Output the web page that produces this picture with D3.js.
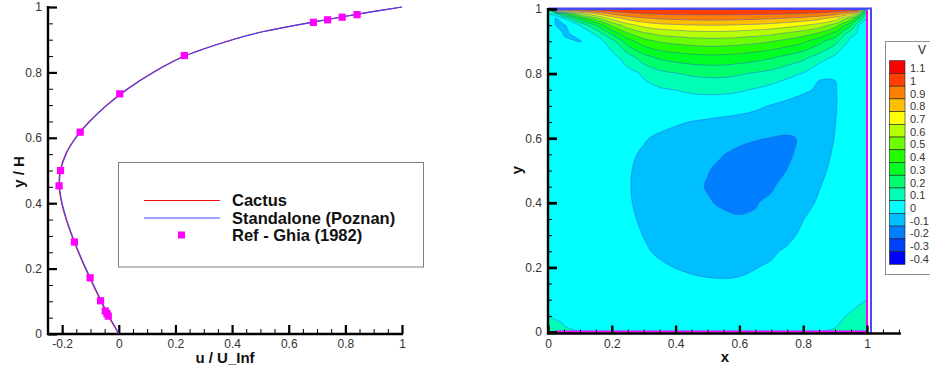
<!DOCTYPE html>
<html><head><meta charset="utf-8">
<script src="https://cdn.jsdelivr.net/npm/d3@7"></script>
<style>
body{margin:0;background:#fff;}
svg{display:block;font-family:"Liberation Sans",Arial,Helvetica,sans-serif;}
</style>
</head><body>
<svg id="chart" width="930" height="369"></svg>
<script>
// ---------- Left panel: centre-line velocity profile ----------
const profileY     = [0, 0.025, 0.05, 0.075, 0.1, 0.15, 0.2, 0.25, 0.3, 0.35, 0.4, 0.45, 0.5, 0.55, 0.6, 0.65, 0.7, 0.75, 0.8, 0.85, 0.9, 0.925, 0.95, 0.97, 0.985, 1];
const cactusU      = [0, -0.017, -0.034, -0.049, -0.063, -0.091, -0.118, -0.143, -0.166, -0.186, -0.202, -0.211, -0.207, -0.188, -0.153, -0.104, -0.043, 0.031, 0.12, 0.232, 0.40, 0.51, 0.66, 0.79, 0.89, 1];
const standaloneU  = [0, -0.015, -0.032, -0.047, -0.061, -0.089, -0.116, -0.141, -0.164, -0.184, -0.200, -0.209, -0.205, -0.186, -0.151, -0.102, -0.041, 0.033, 0.122, 0.234, 0.402, 0.512, 0.662, 0.792, 0.892, 1];
const ghiaY = [0.9766, 0.9688, 0.9609, 0.9531, 0.8516, 0.7344, 0.6172, 0.5, 0.4531, 0.2813, 0.1719, 0.1016, 0.0703, 0.0625, 0.0547];
const ghiaU = [0.84123, 0.78871, 0.73722, 0.68717, 0.23151, 0.00332, -0.13641, -0.20581, -0.2109, -0.15662, -0.1015, -0.06434, -0.04775, -0.04192, -0.03717];
const legendLabels = ["Cactus", "Standalone (Poznan)", "Ref - Ghia (1982)"];
const profileXTicks = [-0.2, 0, 0.2, 0.4, 0.6, 0.8, 1];
const profileYTicks = [0, 0.2, 0.4, 0.6, 0.8, 1];
const profileXLabel = "u / U_Inf";
const profileYLabel = "y / H";

// ---------- Right panel: contour field of V ----------
const gridX = [0, 0.025, 0.05, 0.1, 0.15, 0.2, 0.25, 0.3, 0.35, 0.4, 0.45, 0.5, 0.55, 0.6, 0.65, 0.7, 0.75, 0.8, 0.85, 0.9, 0.95, 0.975, 1];
const gridY = [0, 0.025, 0.05, 0.1, 0.15, 0.2, 0.25, 0.3, 0.35, 0.4, 0.45, 0.5, 0.55, 0.6, 0.65, 0.7, 0.75, 0.8, 0.85, 0.9, 0.925, 0.95, 0.97, 0.985, 1];
const uField = [
 [0.001, 0.001, 0.001, 0, 0, 0, 0, 0, 0, 0, 0, 0, 0, 0, 0, 0, 0, 0, 0, 0.001, 0.002, 0.002, 0.001],
 [0.001, 0.002, -0.0003, -0.003, -0.006, -0.009, -0.011, -0.013, -0.015, -0.016, -0.017, -0.017, -0.017, -0.016, -0.015, -0.013, -0.011, -0.008, -0.004, -0.001, 0.003, 0.004, 0.001],
 [0, -0.002, -0.005, -0.01, -0.016, -0.021, -0.025, -0.028, -0.031, -0.033, -0.034, -0.034, -0.034, -0.033, -0.031, -0.028, -0.024, -0.018, -0.011, -0.004, 0.002, 0.004, 0.001],
 [0, -0.005, -0.01, -0.02, -0.03, -0.04, -0.048, -0.055, -0.06, -0.063, -0.065, -0.066, -0.067, -0.066, -0.063, -0.058, -0.05, -0.04, -0.028, -0.016, -0.006, -0.002, 0],
 [0, -0.006, -0.013, -0.027, -0.04, -0.052, -0.063, -0.072, -0.08, -0.086, -0.089, -0.092, -0.093, -0.091, -0.086, -0.079, -0.068, -0.054, -0.039, -0.024, -0.01, -0.004, 0],
 [0, -0.007, -0.015, -0.031, -0.047, -0.061, -0.074, -0.085, -0.094, -0.101, -0.108, -0.113, -0.115, -0.112, -0.102, -0.092, -0.079, -0.064, -0.048, -0.031, -0.014, -0.006, 0],
 [0, -0.008, -0.017, -0.035, -0.053, -0.069, -0.083, -0.095, -0.106, -0.116, -0.125, -0.134, -0.139, -0.14, -0.132, -0.11, -0.09, -0.072, -0.054, -0.035, -0.016, -0.007, 0],
 [0, -0.009, -0.019, -0.039, -0.058, -0.075, -0.089, -0.101, -0.112, -0.125, -0.138, -0.152, -0.163, -0.17, -0.17, -0.155, -0.118, -0.085, -0.062, -0.04, -0.018, -0.008, 0],
 [0, -0.009, -0.02, -0.041, -0.061, -0.079, -0.093, -0.106, -0.12, -0.135, -0.152, -0.168, -0.182, -0.192, -0.195, -0.185, -0.155, -0.102, -0.07, -0.045, -0.02, -0.009, 0],
 [0, -0.01, -0.021, -0.043, -0.064, -0.082, -0.096, -0.11, -0.126, -0.145, -0.166, -0.192, -0.213, -0.222, -0.203, -0.19, -0.168, -0.13, -0.088, -0.055, -0.025, -0.011, 0],
 [0, -0.01, -0.022, -0.044, -0.065, -0.083, -0.097, -0.112, -0.13, -0.152, -0.178, -0.206, -0.232, -0.245, -0.238, -0.206, -0.18, -0.145, -0.104, -0.065, -0.03, -0.013, 0],
 [0, -0.01, -0.021, -0.043, -0.064, -0.082, -0.096, -0.111, -0.128, -0.148, -0.172, -0.196, -0.222, -0.245, -0.255, -0.24, -0.198, -0.16, -0.118, -0.08, -0.037, -0.016, 0],
 [0, -0.009, -0.02, -0.041, -0.061, -0.078, -0.092, -0.106, -0.121, -0.138, -0.158, -0.178, -0.198, -0.222, -0.24, -0.238, -0.215, -0.175, -0.128, -0.09, -0.043, -0.019, 0],
 [0, -0.008, -0.017, -0.036, -0.054, -0.07, -0.083, -0.096, -0.108, -0.12, -0.134, -0.148, -0.163, -0.178, -0.192, -0.203, -0.212, -0.19, -0.14, -0.097, -0.048, -0.021, 0],
 [0, -0.007, -0.014, -0.029, -0.044, -0.057, -0.068, -0.077, -0.085, -0.093, -0.102, -0.11, -0.118, -0.126, -0.134, -0.142, -0.15, -0.152, -0.14, -0.102, -0.052, -0.023, 0],
 [0, -0.005, -0.01, -0.02, -0.03, -0.038, -0.044, -0.048, -0.051, -0.053, -0.055, -0.057, -0.062, -0.07, -0.085, -0.105, -0.12, -0.128, -0.13, -0.105, -0.058, -0.026, 0],
 [0, -0.003, -0.005, -0.01, -0.015, -0.02, -0.022, -0.02, -0.012, 0.001, 0.017, 0.025, 0.024, 0.012, -0.008, -0.035, -0.065, -0.09, -0.108, -0.104, -0.062, -0.028, 0],
 [0, -0.004, -0.008, -0.015, -0.02, -0.022, -0.03, 0.01, 0.07, 0.095, 0.115, 0.125, 0.124, 0.11, 0.09, 0.068, 0.03, -0.005, -0.094, -0.097, -0.055, -0.025, 0],
 [0, -0.006, -0.012, -0.025, -0.03, -0.035, 0.045, 0.16, 0.217, 0.243, 0.261, 0.27, 0.268, 0.255, 0.236, 0.21, 0.169, 0.122, 0.056, -0.025, -0.05, -0.025, 0],
 [0, -0.02, -0.085, -0.103, -0.06, 0.06, 0.257, 0.358, 0.41, 0.433, 0.45, 0.458, 0.456, 0.445, 0.428, 0.404, 0.367, 0.322, 0.234, 0.133, -0.03, -0.02, 0],
 [0, -0.05, -0.108, -0.085, 0.02, 0.229, 0.394, 0.485, 0.53, 0.55, 0.565, 0.571, 0.57, 0.56, 0.545, 0.526, 0.49, 0.449, 0.389, 0.275, 0.03, -0.015, 0],
 [0, -0.102, -0.112, 0.005, 0.206, 0.42, 0.561, 0.634, 0.671, 0.686, 0.697, 0.702, 0.70, 0.693, 0.683, 0.667, 0.641, 0.609, 0.557, 0.456, 0.218, -0.005, 0],
 [0, -0.115, -0.01, 0.261, 0.45, 0.62, 0.727, 0.78, 0.807, 0.817, 0.825, 0.828, 0.827, 0.822, 0.815, 0.803, 0.785, 0.763, 0.723, 0.651, 0.44, 0.18, 0],
 [0, 0.08, 0.295, 0.565, 0.697, 0.812, 0.872, 0.898, 0.91, 0.915, 0.917, 0.919, 0.919, 0.916, 0.913, 0.909, 0.902, 0.891, 0.872, 0.83, 0.71, 0.505, 0],
 [0, 1, 1, 1, 1, 1, 1, 1, 1, 1, 1, 1, 1, 1, 1, 1, 1, 1, 1, 1, 1, 1, 0]
];
const levelLabels = [1.1, 1, 0.9, 0.8, 0.7, 0.6, 0.5, 0.4, 0.3, 0.2, 0.1, 0, -0.1, -0.2, -0.3, -0.4];
const levelColors = ["#ff0000", "#ff4000", "#ff8000", "#ffbf00", "#ffff00", "#b6ff00", "#6dff00", "#24ff00",
                     "#00ff24", "#00ff6d", "#00ffb6", "#00ffff", "#00bfff", "#0080ff", "#0040ff", "#0000ff"];
const fieldTicks = [0, 0.2, 0.4, 0.6, 0.8, 1];
const fieldXLabel = "x", fieldYLabel = "y", legendTitle = "V";

// ================= drawing =================
const svg = d3.select("#chart");
const fmt = d => String(d);
const tickFont = "12px";
const tickColor = "#333";

function styleAxis(g) {
  g.select(".domain").remove();
  g.selectAll(".tick line").attr("stroke", "#000");
  g.selectAll(".tick text").attr("fill", tickColor).style("font-size", tickFont)
    .style("font-family", '"Liberation Sans",Arial,sans-serif');
}
function minorTicks(lo, hi, step) {
  const out = [];
  for (let k = Math.round(lo / step); k * step <= hi + 1e-9; k++) out.push(+(k * step).toFixed(4));
  return out;
}

// ---- left panel ----
const xL = d3.scaleLinear().domain([-0.25, 1]).range([48, 402]);
const yL = d3.scaleLinear().domain([0, 1]).range([334, 7]);
const L = svg.append("g");

L.append("g").attr("transform", "translate(0,334)")
  .call(d3.axisBottom(xL).tickValues(minorTicks(-0.25, 1, 0.05)).tickSize(-5).tickFormat(""))
  .call(styleAxis).selectAll(".tick line").attr("stroke-width", 1);
L.append("g").attr("transform", "translate(0,334)")
  .call(d3.axisBottom(xL).tickValues(profileXTicks).tickSize(-9).tickPadding(5).tickFormat(fmt))
  .call(styleAxis).selectAll(".tick line").attr("stroke-width", 2.2);
L.append("g").attr("transform", "translate(48,0)")
  .call(d3.axisLeft(yL).tickValues(minorTicks(0, 1, 0.05)).tickSize(-5).tickFormat(""))
  .call(styleAxis).selectAll(".tick line").attr("stroke-width", 1);
L.append("g").attr("transform", "translate(48,0)")
  .call(d3.axisLeft(yL).tickValues(profileYTicks).tickSize(-9).tickPadding(6).tickFormat(fmt))
  .call(styleAxis).selectAll(".tick line").attr("stroke-width", 2.2);
L.append("line").attr("x1", 48).attr("x2", 48).attr("y1", yL(1) - 1).attr("y2", 335).attr("stroke", "#000").attr("stroke-width", 2.4);
L.append("line").attr("x1", 47).attr("x2", xL(1) + 1).attr("y1", 334).attr("y2", 334).attr("stroke", "#000").attr("stroke-width", 2.4);

const lineGen = arr => d3.line().x((d, i) => xL(arr[i])).y((d, i) => yL(profileY[i])).curve(d3.curveCatmullRom.alpha(0.5))(profileY);
L.append("path").attr("d", lineGen(cactusU)).attr("fill", "none").attr("stroke", "#ee1111").attr("stroke-width", 1.1);
L.append("path").attr("d", lineGen(standaloneU)).attr("fill", "none").attr("stroke", "#4444ff").attr("stroke-width", 1.1);
L.selectAll("rect.m").data(ghiaY).join("rect").attr("class", "m")
  .attr("x", (d, i) => xL(ghiaU[i]) - 3.6).attr("y", d => yL(d) - 3.6)
  .attr("width", 7.2).attr("height", 7.2).attr("fill", "#ff00ff");

L.append("text").attr("x", 225).attr("y", 363).attr("text-anchor", "middle")
  .style("font-size", "15px").style("font-weight", "bold").attr("fill", "#111").text(profileXLabel);
L.append("text").attr("transform", "translate(24,172) rotate(-90)").attr("text-anchor", "middle")
  .style("font-size", "15px").style("font-weight", "bold").attr("fill", "#111").text(profileYLabel);

// legend
const lg = L.append("g");
lg.append("rect").attr("x", 118.5).attr("y", 162.5).attr("width", 305).attr("height", 104.5)
  .attr("fill", "#fff").attr("stroke", "#808080").attr("stroke-width", 1);
const legY = [200.5, 218, 235];
lg.append("line").attr("x1", 144).attr("x2", 220).attr("y1", legY[0]).attr("y2", legY[0]).attr("stroke", "#ee1111").attr("stroke-width", 1.2);
lg.append("line").attr("x1", 144).attr("x2", 220).attr("y1", legY[1]).attr("y2", legY[1]).attr("stroke", "#4444ff").attr("stroke-width", 1.2);
lg.append("rect").attr("x", 178).attr("y", legY[2] - 3.5).attr("width", 7).attr("height", 7).attr("fill", "#ff00ff");
legendLabels.forEach((t, i) => {
  lg.append("text").attr("x", 232).attr("y", legY[i] + 5.8).style("font-size", "16.5px")
    .style("font-weight", "bold").attr("fill", "#111").text(t);
});

// ---- right panel ----
const xR = d3.scaleLinear().domain([0, 1]).range([548, 867]);
const yR = d3.scaleLinear().domain([0, 1]).range([332, 9]);
const R = svg.append("g");

const nx = gridX.length, ny = gridY.length;
const values = [];
for (let j = 0; j < ny; j++) for (let i = 0; i < nx; i++) values.push(uField[j][i]);
const ix = d3.scaleLinear().domain(d3.range(nx)).range(gridX).clamp(true);
const iy = d3.scaleLinear().domain(d3.range(ny)).range(gridY).clamp(true);
const toPx = p => [xR(ix(p[0] - 0.5)), yR(iy(p[1] - 0.5))];
const onWall = p => p[0] < 0.501 || p[0] > nx - 0.501 || p[1] < 0.501 || p[1] > ny - 0.501;
const stripM = s => s.replace(/^M[^A-Za-z]*/, "");
const openCurve = d3.line().curve(d3.curveCatmullRom.alpha(0.5));
const closedCurve = d3.line().curve(d3.curveCatmullRomClosed.alpha(0.5));

function ringPath(ring) {
  let pts = ring.slice(0, -1).map(p => ({ p: toPx(p), w: onWall(p) }));
  const n = pts.length;
  if (n < 3) return "";
  const first = pts.findIndex(d => d.w);
  if (first < 0) return closedCurve(pts.map(d => d.p)) + "Z";
  pts = pts.slice(first).concat(pts.slice(0, first));
  pts.push(pts[0]);
  let s = "M" + pts[0].p[0] + "," + pts[0].p[1];
  let i = 0;
  while (i < n) {
    let j = i + 1;
    while (j < n && !pts[j].w) j++;
    const seg = pts.slice(i, j + 1).map(d => d.p);
    if (seg.length === 2) s += "L" + seg[1][0] + "," + seg[1][1];
    else s += stripM(openCurve(seg));
    i = j;
  }
  return s + "Z";
}
const multiPath = mp => mp.coordinates.map(poly => poly.map(ringPath).join("")).join("");

const colorOf = v => levelColors[levelLabels.findIndex(l => Math.abs(l - v) < 1e-6)];
const lower = levelLabels.slice(1).reverse().slice(1); // -0.3 ... 1.0
const eps = 1e-6;
const cont = d3.contours().size([nx, ny]).thresholds(lower.map(t => t + eps))(values);
const fieldG = R.append("g");
fieldG.selectAll("path.f").data(cont).join("path").attr("class", "f")
  .attr("d", multiPath).attr("fill-rule", "evenodd")
  .attr("fill", (d, k) => colorOf(+(lower[k] + 0.1).toFixed(1))).attr("stroke", "none");
fieldG.selectAll("path.l").data(cont.slice(1)).join("path").attr("class", "l")
  .attr("d", multiPath).attr("fill", "none").attr("stroke", "#3050e0").attr("stroke-opacity", 0.55).attr("stroke-width", 0.8);

// borders of the cavity
R.append("line").attr("x1", xR(0)).attr("x2", xR(1) + 4).attr("y1", yR(1) - 0.5).attr("y2", yR(1) - 0.5).attr("stroke", "#4848ff").attr("stroke-width", 2);
R.append("line").attr("x1", xR(1) + 4).attr("x2", xR(1) + 4).attr("y1", yR(1) - 1.5).attr("y2", yR(0) + 1).attr("stroke", "#4848ff").attr("stroke-width", 2);
R.append("line").attr("x1", xR(1)).attr("x2", xR(1)).attr("y1", yR(1) + 1).attr("y2", yR(0)).attr("stroke", "#ff00ff").attr("stroke-width", 2);
R.append("line").attr("x1", xR(0) + 7).attr("x2", xR(1)).attr("y1", yR(0) - 0.5).attr("y2", yR(0) - 0.5).attr("stroke", "#ff00ff").attr("stroke-width", 2);

// axes
R.append("g").attr("transform", "translate(0,333.5)")
  .call(d3.axisBottom(xR).tickValues(minorTicks(0, 1.1, 0.05)).tickSize(-4).tickFormat(""))
  .call(styleAxis).selectAll(".tick line").attr("stroke-width", 1);
R.append("g").attr("transform", "translate(0,333.5)")
  .call(d3.axisBottom(xR).tickValues(fieldTicks).tickSize(-8).tickPadding(6).tickFormat(fmt))
  .call(styleAxis).selectAll(".tick line").attr("stroke-width", 2.4);
R.append("g").attr("transform", "translate(548,0)")
  .call(d3.axisLeft(yR).tickValues(minorTicks(0, 1, 0.05)).tickSize(-4).tickFormat(""))
  .call(styleAxis).selectAll(".tick line").attr("stroke-width", 1);
R.append("g").attr("transform", "translate(548,0)")
  .call(d3.axisLeft(yR).tickValues(fieldTicks).tickSize(-9).tickPadding(6).tickFormat(fmt))
  .call(styleAxis).selectAll(".tick line").attr("stroke-width", 2.8);
R.append("line").attr("x1", 548).attr("x2", 548).attr("y1", yR(1) - 1).attr("y2", 334.5).attr("stroke", "#000").attr("stroke-width", 2.4);
R.append("line").attr("x1", 547).attr("x2", xR(1.1) + 2).attr("y1", 333.5).attr("y2", 333.5).attr("stroke", "#000").attr("stroke-width", 2.4);

R.append("text").attr("x", 725).attr("y", 362).attr("text-anchor", "middle")
  .style("font-size", "15px").style("font-weight", "bold").attr("fill", "#111").text(fieldXLabel);
R.append("text").attr("transform", "translate(522,170) rotate(-90)").attr("text-anchor", "middle")
  .style("font-size", "15px").style("font-weight", "bold").attr("fill", "#111").text(fieldYLabel);

// colour legend
const cb = R.append("g");
cb.append("rect").attr("x", 885.5).attr("y", 41.5).attr("width", 60).attr("height", 233)
  .attr("fill", "#fff").attr("stroke", "#909090").attr("stroke-width", 1);
cb.append("text").attr("x", 922).attr("y", 54).attr("text-anchor", "middle")
  .style("font-size", "12px").attr("fill", "#222").text(legendTitle);
const bandY = d3.scaleBand().domain(levelLabels).range([60.7, 264.3]);
cb.selectAll("rect.b").data(levelLabels).join("rect").attr("class", "b")
  .attr("x", 889.5).attr("y", d => bandY(d)).attr("width", 15.5).attr("height", bandY.bandwidth())
  .attr("fill", (d, i) => levelColors[i]).attr("stroke", "#222").attr("stroke-width", 0.6);
cb.selectAll("text.b").data(levelLabels).join("text").attr("class", "b")
  .attr("x", 910).attr("y", d => bandY(d) + bandY.bandwidth() / 2 + 5)
  .style("font-size", "11px").attr("fill", tickColor).text(fmt);
</script>
</body></html>
